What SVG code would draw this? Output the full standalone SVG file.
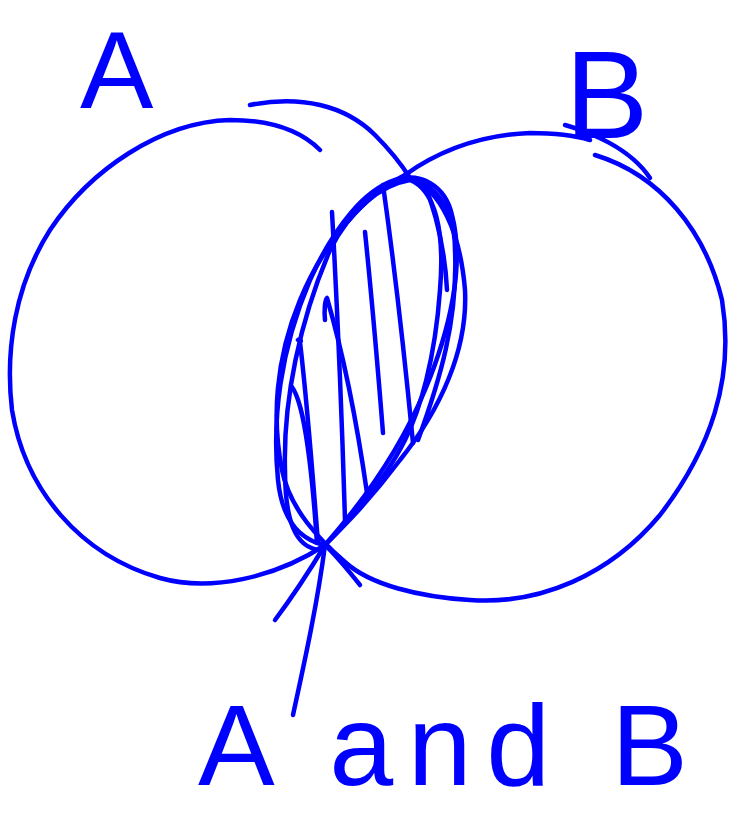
<svg xmlns="http://www.w3.org/2000/svg" width="732" height="813" viewBox="0 0 732 813">
<style>
.s{fill:none;stroke:#0000ff;stroke-width:4.5;stroke-linecap:round;stroke-linejoin:round}
.t{fill:#0000ff;font-family:"Liberation Sans",Arial,sans-serif}
</style>
<rect width="732" height="813" fill="#ffffff"/>
<g id="circleA">
<path class="s" d="M320,150 C300,130 270,120 230,120 C160,122 90,170 50,230 C15,285 5,350 12,410 C25,490 80,555 160,578 C210,592 275,578 325,545"/>
<path class="s" d="M250,105 C300,95 345,105 375,135 C395,155 405,170 410,178 C440,190 460,230 465,290 C468,350 440,410 400,460 C370,500 345,525 325,545"/>
</g>
<g id="circleB">
<path class="s" d="M405,175 C440,150 480,135 530,133 C560,133 580,137 590,140"/>
<path class="s" d="M595,155 C660,175 705,230 722,300 C735,380 710,450 660,515 C610,575 540,605 470,600 C420,597 370,585 345,562 C320,540 290,510 282,470 C272,420 275,360 300,300 C325,240 365,195 405,175"/>
<path class="s" d="M565,125 C590,132 630,148 650,178"/>
</g>
<g id="intersection">
<path class="s" d="M325,545 C300,540 282,520 278,480 C272,420 280,350 310,280 C335,225 365,190 395,180 C420,172 445,185 452,215 C465,265 450,330 425,390 C400,450 360,505 325,545"/>
<path class="s" d="M320,550 C295,548 285,520 285,470 C283,400 300,320 330,250 C350,210 380,185 410,180 C435,190 445,230 440,290 C435,360 420,410 405,440 C385,480 350,520 320,550"/>
<path class="s" d="M398,180 C430,175 455,205 455,250 C458,320 440,380 418,440"/>
<path class="s" d="M423,180 C435,210 445,250 447,290"/>
</g>
<g id="hatch">
<path class="s" d="M332,212 C338,320 342,420 345,520"/>
<path class="s" d="M365,232 C372,300 378,370 383,433"/>
<path class="s" d="M383,185 C395,270 405,360 413,443"/>
<path class="s" d="M325,320 C324,310 325,300 327,298 C345,360 358,430 367,493"/>
<path class="s" d="M298,340 C300,338 302,342 300,342 C308,410 313,480 318,543"/>
<path class="s" d="M292,387 C305,405 312,470 317,543"/>
</g>
<g id="connectors">
<path class="s" d="M325,545 C310,570 290,600 275,620"/>
<path class="s" d="M325,545 C318,600 305,660 293,715"/>
<path class="s" d="M328,548 C340,560 352,575 360,585"/>
</g>
<g id="labels">
<text class="t" x="80" y="108" font-size="110">A</text>
<text class="t" x="565" y="138" font-size="125">B</text>
<text class="t" x="198" y="785" font-size="115" textLength="490" lengthAdjust="spacing">A and B</text>
</g>
</svg>
